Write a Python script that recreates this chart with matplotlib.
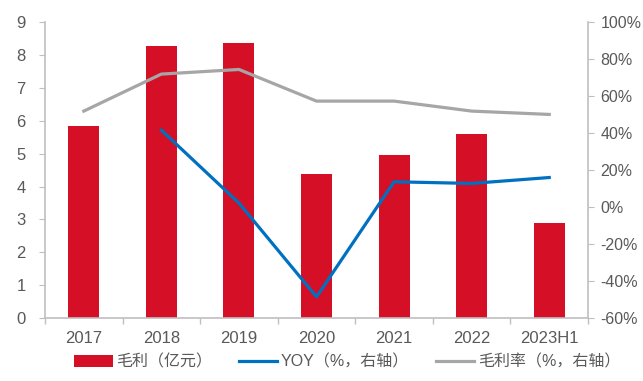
import matplotlib.pyplot as plt
import numpy as np

plt.rcParams['font.family'] = ['Liberation Sans', 'Noto Sans CJK SC', 'DejaVu Sans']

years = ["2017", "2018", "2019", "2020", "2021", "2022", "2023H1"]
gross_profit = [5.85, 8.28, 8.35, 4.38, 4.95, 5.60, 2.88]          # 亿元
yoy_years = ["2018", "2019", "2020", "2021", "2022", "2023H1"]
yoy = [41.6, 2.2, -48.5, 13.7, 12.8, 16.0]                          # %
margin = [51.9, 71.9, 74.4, 57.3, 57.3, 51.9, 50.1]                # %

RED = "#D50F25"
BLUE = "#0070C0"
GRAY = "#A6A6A6"
TXT = "#595959"
AX = "#BFBFBF"

fig = plt.figure(figsize=(6.43, 3.81), dpi=100)
ax = fig.add_axes([0.070, 0.165, 0.8445, 0.777])
ax2 = ax.twinx()

x = np.arange(len(years))
ax.bar(x, gross_profit, width=0.4, color=RED, label="毛利（亿元）", zorder=2)

yoy_x = [years.index(y) for y in yoy_years]
ax2.plot(yoy_x, yoy, color=BLUE, lw=2.3, label="YOY（%，右轴）", zorder=3)
ax2.plot(x, margin, color=GRAY, lw=2.3, label="毛利率（%，右轴）", zorder=3)

ax.set_xlim(-0.5, len(years) - 0.5)
ax.set_ylim(0, 9)
ax.set_yticks(range(0, 10))
ax2.set_ylim(-60, 100)
ax2.set_yticks(range(-60, 101, 20))
ax2.set_yticklabels([f"{v}%" for v in range(-60, 101, 20)])

ax.set_xticks(x)
ax.set_xticklabels(years)
ax.set_xticks(np.arange(-0.5, len(years), 1), minor=True)
ax.tick_params(axis="x", which="major", length=0, pad=9, labelsize=12, colors=TXT)
ax.tick_params(axis="x", which="minor", length=4, color=AX, width=1)
ax.tick_params(axis="y", length=4, color=AX, labelsize=12, labelcolor=TXT, pad=10)
ax2.tick_params(axis="y", length=4, color=AX, labelsize=11.5, labelcolor=TXT, pad=5)

for a in (ax, ax2):
    a.spines["top"].set_visible(False)
    for s in ("left", "right", "bottom"):
        a.spines[s].set_color(AX)
        a.spines[s].set_linewidth(1.2)
ax.spines["right"].set_visible(False)
ax2.spines["left"].set_visible(False)
ax2.spines["bottom"].set_visible(False)

h1, l1 = ax.get_legend_handles_labels()
h2, l2 = ax2.get_legend_handles_labels()
fig.legend(h1 + h2, l1 + l2, loc="lower center", bbox_to_anchor=(0.54, -0.008),
           ncol=3, frameon=False, fontsize=11.5, labelcolor=TXT,
           handlelength=2.4, handletextpad=0.2, columnspacing=1.7)

fig.savefig("out.png", dpi=100)
